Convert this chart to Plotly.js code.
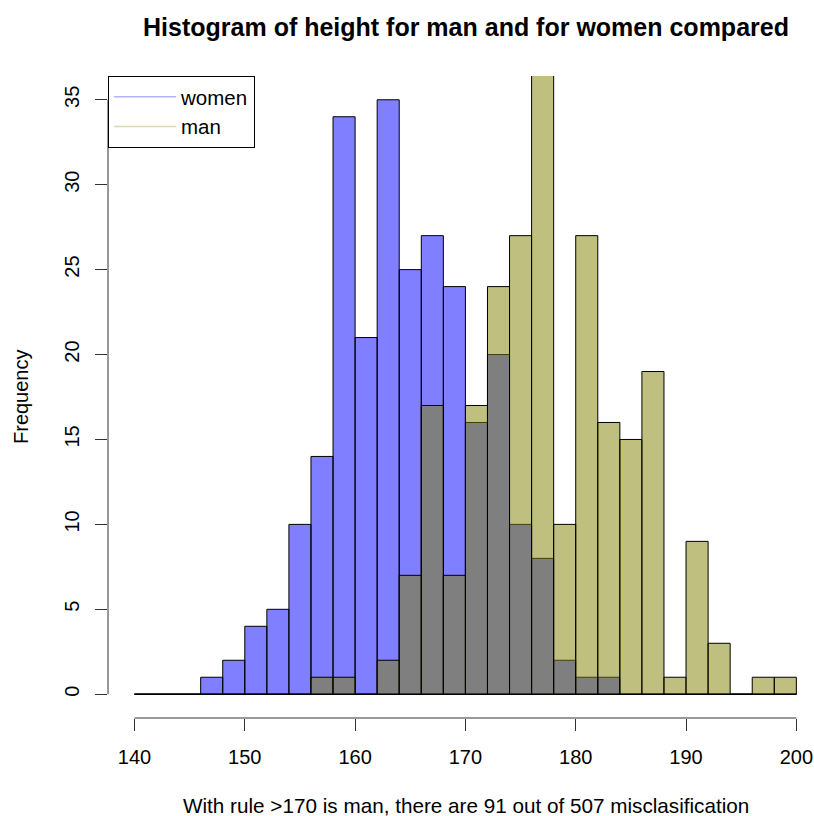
<!DOCTYPE html>
<html>
<head>
<meta charset="utf-8">
<script src="https://cdn.plot.ly/plotly-3.0.1.min.js"></script>
<style>html,body{margin:0;padding:0;background:#fff;}</style>
</head>
<body>
<div id="chart" style="width:814px;height:816px;"></div>
<script>
// Bin centres of the 2 cm histogram bins (140..200)
const binMids = [141,143,145,147,149,151,153,155,157,159,161,163,165,167,169,171,173,175,177,179,181,183,185,187,189,191,193,195,197,199];
// Frequencies
const women = [0,0,0,1,2,4,5,10,14,34,21,35,25,27,24,16,20,10,8,2,1,1,0,0,0,0,0,0,0,0];
const man   = [0,0,0,0,0,0,0,0,1,1,0,2,7,17,7,17,24,27,42,10,27,16,15,19,1,9,3,0,1,1];
const seriesNames = ["women", "man"];
const xTicks = [140,150,160,170,180,190,200];
const yTicks = [0,5,10,15,20,25,30,35];
const binWidth = 2;

const FONT = "Liberation Sans, Arial, Helvetica, sans-serif";

const traces = [
  {
    type: "scatter", mode: "lines",
    x: [xTicks[0], xTicks[xTicks.length - 1]], y: [0, 0],
    line: {color: "black", width: 1},
    showlegend: false, hoverinfo: "skip"
  },
  {
    type: "bar", name: seriesNames[0], x: binMids, y: women, width: binWidth,
    marker: {color: "rgba(0,0,255,0.5)", line: {color: "black", width: 1}},
    showlegend: false
  },
  {
    type: "bar", name: seriesNames[1], x: binMids, y: man, width: binWidth,
    marker: {color: "rgba(128,128,0,0.5)", line: {color: "black", width: 1}},
    showlegend: false
  },
  {
    type: "scatter", mode: "lines", name: seriesNames[0], x: [null], y: [null],
    line: {color: "rgba(0,0,255,0.3)", width: 1.5}
  },
  {
    type: "scatter", mode: "lines", name: seriesNames[1], x: [null], y: [null],
    line: {color: "rgba(128,128,0,0.3)", width: 1.5}
  }
];

const layout = {
  width: 814, height: 816,
  margin: {l: 108, r: 0, t: 76, b: 98, pad: 0},
  paper_bgcolor: "white", plot_bgcolor: "white",
  barmode: "overlay",
  font: {family: FONT, color: "black", size: 20},
  title: {
    text: "Histogram of height for man and for women compared",
    font: {family: FONT, size: 25, weight: "bold", color: "black"},
    xref: "container", yref: "container",
    x: 466 / 814, xanchor: "center",
    y: 1 - 27 / 816, yanchor: "middle"
  },
  xaxis: {
    range: [137.6, 201.6],
    tickvals: xTicks, ticktext: xTicks.map(String),
    ticks: "outside", ticklen: 12, tickwidth: 1, tickcolor: "#333",
    ticklabelstandoff: 9,
    showline: false, showgrid: false, zeroline: false,
    tickfont: {family: FONT, size: 20, color: "black"},
    fixedrange: true
  },
  yaxis: {
    range: [-1.4, 36.4],
    tickvals: yTicks, ticktext: yTicks.map(String),
    ticks: "outside", ticklen: 12, tickwidth: 1, tickcolor: "#333",
    ticklabelstandoff: 8,
    tickangle: -90,
    showline: false, showgrid: false, zeroline: false,
    tickfont: {family: FONT, size: 20, color: "black"},
    fixedrange: true
  },
  shapes: [
    {type: "line", xref: "x", yref: "paper", x0: xTicks[0], x1: xTicks[xTicks.length - 1], y0: 0, y1: 0,
     line: {color: "#333", width: 1}},
    {type: "line", xref: "paper", yref: "y", x0: 0, x1: 0, y0: yTicks[0], y1: yTicks[yTicks.length - 1],
     line: {color: "#333", width: 1}}
  ],
  annotations: [
    {text: "With rule >170 is man, there are 91 out of 507 misclasification",
     xref: "paper", yref: "paper", x: (466 - 108) / 706, y: -(805 - 718) / 642,
     xanchor: "center", yanchor: "middle", showarrow: false,
     font: {family: FONT, size: 20.7, color: "black"}},
    {text: "Frequency", xref: "paper", yref: "paper", x: (21 - 108) / 706, y: 0.5,
     xanchor: "center", yanchor: "middle", textangle: -90, showarrow: false,
     font: {family: FONT, size: 20, color: "black"}}
  ],
  legend: {
    x: 0, y: 1, xanchor: "left", yanchor: "top",
    bgcolor: "white", bordercolor: "black", borderwidth: 1,
    font: {family: FONT, size: 20.5, color: "black"},
    itemwidth: 62,
    tracegroupgap: 0
  },
  showlegend: true
};

Plotly.newPlot("chart", traces, layout, {displayModeBar: false, staticPlot: true});
</script>
</body>
</html>
